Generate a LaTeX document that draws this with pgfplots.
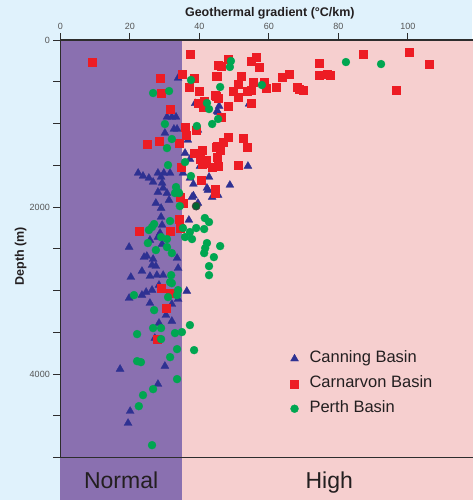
\documentclass[border=0pt]{standalone}
\usepackage{pgfplots}
\pgfplotsset{compat=1.18}
\usepackage{fontspec}
\setmainfont{Liberation Sans}
\definecolor{bgblue}{RGB}{224,242,252}
\definecolor{purpleband}{RGB}{138,112,176}
\definecolor{pinkband}{RGB}{246,207,207}
\definecolor{canning}{RGB}{46,49,146}
\definecolor{carnarvon}{RGB}{237,28,36}
\definecolor{perth}{RGB}{0,166,81}
\definecolor{textdark}{RGB}{35,31,32}
\definecolor{axisdark}{RGB}{45,45,45}
\definecolor{ticklabelgray}{RGB}{85,85,85}
\pgfplotsset{singlemark/.style={legend image code/.code={\draw[##1] plot coordinates {(0cm,0cm)};}}}
\begin{document}
\begin{tikzpicture}
\useasboundingbox (-60.3pt,-42.5pt) rectangle (411.7pt,457.5pt);
\fill[bgblue] (-60.3pt,-42.5pt) rectangle (411.7pt,457.5pt);
\begin{axis}[
  at={(0pt,0pt)}, anchor=south west,
  scale only axis, width=415.26pt, height=417.5pt,
  xmin=0, xmax=119.5, ymin=0, ymax=5000, y dir=reverse,
  clip=false, axis on top,
  axis line style={draw=axisdark, line width=1.4pt},
  xtick={0,20,...,120},
  xtick pos=right, xticklabel pos=right,
  ytick pos=left, yticklabel pos=left,
  ytick={0,500,...,5000}, yticklabels={0,,,,2000,,,,4000,,},
  tick align=outside, major tick length=7pt,
  tick style={draw=axisdark, line width=0.9pt},
  tick label style={font=\fontsize{9}{10}\selectfont, text=ticklabelgray},
  /pgf/number format/assume math mode=true,
  legend style={at={(axis cs:66.2,3722)}, anchor=north west, draw=none, fill=none,
    inner sep=0pt, font=\fontsize{16.5}{19}\selectfont, text=textdark,
    nodes={inner sep=0pt, text height=12pt, text depth=3.5pt},
    row sep=9.5pt, column sep=11pt, cells={anchor=west}},
  legend cell align=left,
]
\fill[purpleband] (axis cs:0,0) rectangle (axis cs:35,5510);
\fill[pinkband] (axis cs:35,0) rectangle (axis cs:119.5,5510);

\addplot[only marks, mark=triangle*, mark size=4.6pt, color=canning, line width=0.3pt, mark options={draw=canning, fill=canning}, singlemark] table {
x y
33.9 455
38.8 759
30.7 922
32.1 922
33.3 922
32.7 1066
33.6 1066
30.1 1114
36.7 1198
39.6 1078
45.1 851
45.7 791
45.4 863
54.3 767
35.9 1354
37.3 1426
40.2 1510
54.0 1510
48.8 1737
42.2 1773
45.4 1857
22.4 1593
23.8 1629
25.5 1653
26.7 1701
28.1 1593
29.8 1593
31.6 1593
29.3 1713
29.0 1641
28.1 1821
30.7 1833
29.6 1773
27.5 1953
29.0 2013
31.3 1917
29.0 2120
37.0 2156
35.3 1593
37.3 1653
37.9 1881
42.5 1797
43.7 1881
39.6 1953
42.8 1641
38.3 1725
38.3 1865
29.3 2216
28.7 2312
28.1 2360
25.8 2396
29.3 2444
19.8 2480
24.9 2588
24.1 2600
26.7 2624
26.4 2696
27.5 2708
23.5 2768
25.8 2828
27.8 2816
29.6 2816
20.3 2840
33.6 2612
33.9 2732
28.4 2935
26.4 2995
24.7 3019
23.5 3055
19.8 3091
25.8 3151
32.1 3163
36.4 3007
33.9 3103
30.4 3295
32.1 3366
28.4 3390
27.2 3570
17.2 3941
30.1 3905
28.1 4121
20.1 4445
19.5 4588
};
\addlegendentry{Canning Basin}

\addplot[only marks, mark=square*, mark size=4.0pt, color=carnarvon, line width=0.3pt, mark options={draw=carnarvon, fill=carnarvon}, singlemark] table {
x y
9.1 264
37.3 168
28.7 455
35.0 411
38.5 455
37.0 563
39.9 611
29.0 635
44.8 431
45.4 300
44.8 671
41.4 731
39.6 755
41.1 803
31.6 827
35.9 1042
39.1 1078
36.2 1138
28.4 1210
25.0 1246
34.2 1234
38.5 1354
40.8 1318
40.2 1426
41.9 1438
44.8 1282
45.1 1402
34.7 1522
40.8 1486
48.3 228
56.3 204
54.9 252
57.2 323
46.2 311
45.1 431
52.0 431
74.4 276
74.4 419
76.7 407
63.8 443
65.8 407
51.1 527
55.5 503
54.9 599
53.7 611
58.6 503
59.2 575
62.1 563
68.1 563
68.7 587
69.8 599
49.7 611
51.1 683
44.5 659
45.4 695
54.9 755
48.3 791
46.4 926
48.3 1162
52.6 1174
46.8 1222
45.1 1270
46.0 1318
53.7 1282
51.1 1498
43.7 1521
87.1 168
100.4 144
106.1 288
96.6 599
77.6 419
41.1 1474
45.4 1510
40.5 1677
44.5 1785
44.5 1833
34.4 1881
35.3 1953
22.7 2288
31.6 2288
34.2 2144
34.4 2252
29.0 2971
31.6 3031
30.4 3211
27.8 3582
};
\addlegendentry{Carnarvon Basin}

\addplot[only marks, mark=*, mark size=4.0pt, color=perth, line width=0.3pt, mark options={draw=perth, fill=perth}, singlemark] table {
x y
26.7 635
31.3 611
37.6 479
42.2 755
42.8 827
30.1 1006
39.3 1030
43.7 1006
32.1 1186
30.7 1294
35.9 1462
31.0 1498
46.0 563
45.4 946
49.1 252
48.8 323
58.0 539
82.2 264
92.3 288
37.6 1629
33.3 1761
33.9 1821
34.2 1833
33.0 1833
34.4 1989
31.6 2168
27.0 2204
26.4 2240
25.5 2276
29.0 2360
30.7 2384
25.2 2432
27.5 2516
30.7 2480
32.1 2552
35.3 2252
35.9 2360
37.3 2300
39.1 2252
37.9 2384
41.6 2132
42.8 2180
41.4 2264
42.2 2432
41.7 2492
41.4 2552
44.2 2600
42.8 2708
42.8 2816
31.9 2816
31.6 2900
32.1 2912
33.9 2995
46.0 2468
21.2 3055
31.0 3079
33.6 3055
27.0 3235
26.7 3450
29.0 3450
22.1 3522
33.0 3510
35.0 3498
37.3 3414
29.0 3582
33.6 3702
38.5 3714
31.6 3798
22.1 3846
23.2 3858
33.6 4061
26.7 4181
23.8 4253
22.6 4385
26.4 4852
};
\addlegendentry{Perth Basin}

\addplot[only marks, mark=*, mark size=4.0pt, forget plot, mark options={draw=black!75, line width=0.8pt, fill=perth!60!black}] table {
x y
39.1 1989
};

\node[anchor=base, font=\bfseries\fontsize{12.5}{14}\selectfont, text=textdark] at (axis cs:60.3,-287) {Geothermal gradient (°C/km)};
\node[anchor=base, rotate=90, font=\bfseries\fontsize{12.5}{14}\selectfont, text=textdark] at (axis cs:-10.45,2588) {Depth (m)};
\node[anchor=base, font=\fontsize{23}{26}\selectfont, text=textdark] at (axis cs:17.5,5371) {Normal};
\node[anchor=base, font=\fontsize{23}{26}\selectfont, text=textdark] at (axis cs:77.4,5371) {High};
\end{axis}
\end{tikzpicture}
\end{document}
